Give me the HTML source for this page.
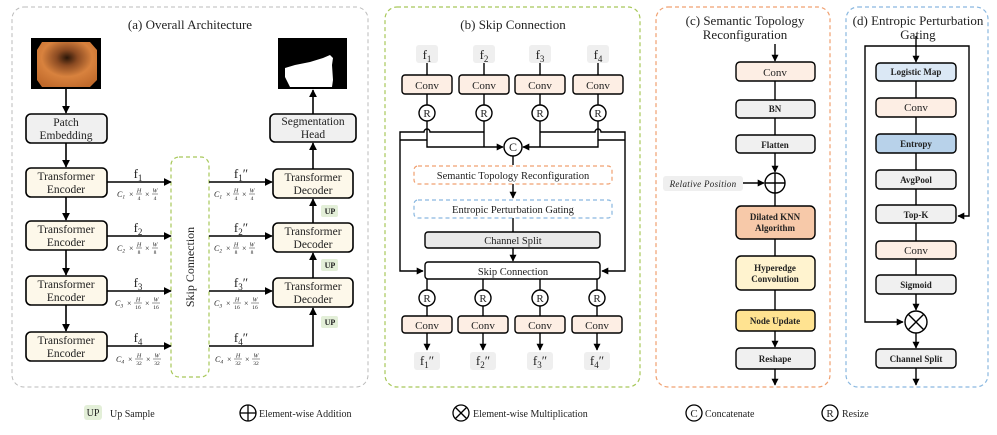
<!DOCTYPE html>
<html><head><meta charset="utf-8"><style>
html,body{margin:0;padding:0;background:#fff}
svg{display:block}
text{font-family:"Liberation Serif",serif;fill:#222}
</style></head><body>
<svg width="997" height="435" viewBox="0 0 997 435" xmlns="http://www.w3.org/2000/svg">
<defs>
<marker id="ah" viewBox="0 0 10 10" refX="9" refY="5" markerWidth="5" markerHeight="5" orient="auto-start-reverse"><path d="M0,0 L10,5 L0,10 z" fill="#000"/></marker>
<radialGradient id="endo" cx="0.5" cy="0.35" r="0.7"><stop offset="0" stop-color="#2a1608"/><stop offset="0.25" stop-color="#8a4a22"/><stop offset="0.6" stop-color="#d8823e"/><stop offset="1" stop-color="#c06a2c"/></radialGradient>
</defs>
<g fill="none" stroke="#000" stroke-width="1.6">
<rect x="12" y="7" width="356" height="380" rx="12" stroke="#bbb" stroke-width="1" stroke-dasharray="4,3"/>
<rect x="385" y="7" width="255" height="380" rx="12" stroke="#a8c85a" stroke-width="1.2" stroke-dasharray="4,3"/>
<rect x="656" y="7" width="174" height="380" rx="12" stroke="#f0a070" stroke-width="1.2" stroke-dasharray="4,3"/>
<rect x="846" y="7" width="142" height="380" rx="12" stroke="#8ab8e0" stroke-width="1.2" stroke-dasharray="4,3"/>
</g>
<text x="190" y="29" font-size="13" text-anchor="middle">(a) Overall Architecture</text>
<text x="513" y="29" font-size="13" text-anchor="middle">(b) Skip Connection</text>
<text x="745" y="25" font-size="13" text-anchor="middle">(c) Semantic Topology</text>
<text x="745" y="39" font-size="13" text-anchor="middle">Reconfiguration</text>
<text x="918" y="25" font-size="13" text-anchor="middle">(d) Entropic Perturbation</text>
<text x="918" y="39" font-size="13" text-anchor="middle">Gating</text>

<!-- panel a -->
<rect x="31" y="38" width="70" height="51" fill="#000"/>
<polygon points="42,42 90,42 97,50 97,80 90,87 42,87 37,80 37,50" fill="url(#endo)"/>
<rect x="278" y="38" width="69" height="51" fill="#000"/>
<polygon points="285,68 295,65 310,62 323,58 330,55 333,58 332,65 333,80 332,87 290,87 285,77" fill="#fff"/>
<g stroke="#000" stroke-width="1.6">
<rect x="26" y="114" width="81" height="29" rx="5" fill="#f0f0f0"/>
<rect x="26" y="168" width="81" height="29" rx="5" fill="#fdf8ea"/>
<rect x="26" y="221" width="81" height="29" rx="5" fill="#fdf8ea"/>
<rect x="26" y="276" width="81" height="29" rx="5" fill="#fdf8ea"/>
<rect x="26" y="332" width="81" height="29" rx="5" fill="#fdf8ea"/>
<rect x="270" y="114" width="86" height="28" rx="5" fill="#f0f0f0"/>
<rect x="273" y="169" width="80" height="29" rx="5" fill="#fdf8ea"/>
<rect x="273" y="223" width="80" height="29" rx="5" fill="#fdf8ea"/>
<rect x="273" y="278" width="80" height="29" rx="5" fill="#fdf8ea"/>
</g>
<rect x="171" y="157" width="38" height="220" rx="8" fill="none" stroke="#a8c85a" stroke-width="1.2" stroke-dasharray="4,3"/>
<text transform="translate(194,267) rotate(-90)" font-size="12" text-anchor="middle">Skip Connection</text>
<g font-size="11.5" text-anchor="middle">
<text x="66" y="126">Patch</text><text x="66" y="139">Embedding</text>
<text x="66" y="180">Transformer</text><text x="66" y="193">Encoder</text>
<text x="66" y="233">Transformer</text><text x="66" y="246">Encoder</text>
<text x="66" y="288">Transformer</text><text x="66" y="301">Encoder</text>
<text x="66" y="344">Transformer</text><text x="66" y="357">Encoder</text>
<text x="313" y="125">Segmentation</text><text x="313" y="138">Head</text>
<text x="313" y="181">Transformer</text><text x="313" y="194">Decoder</text>
<text x="313" y="235">Transformer</text><text x="313" y="248">Decoder</text>
<text x="313" y="290">Transformer</text><text x="313" y="303">Decoder</text>
</g>
<g fill="#e3efd8"><rect x="321" y="205" width="17" height="12" rx="2"/><rect x="321" y="259" width="17" height="12" rx="2"/><rect x="321" y="316" width="17" height="12" rx="2"/></g>
<g font-size="8" text-anchor="middle" font-weight="bold"><text x="330" y="214">UP</text><text x="330" y="268">UP</text><text x="330" y="325">UP</text></g>
<g stroke="#000" stroke-width="1.6" fill="none" marker-end="url(#ah)">
<line x1="66" y1="89" x2="66" y2="113"/>
<line x1="66" y1="143" x2="66" y2="167"/>
<line x1="66" y1="197" x2="66" y2="220"/>
<line x1="66" y1="250" x2="66" y2="275"/>
<line x1="66" y1="305" x2="66" y2="331"/>
<line x1="107" y1="182" x2="171" y2="182"/>
<line x1="107" y1="236" x2="171" y2="236"/>
<line x1="107" y1="291" x2="171" y2="291"/>
<line x1="107" y1="346" x2="171" y2="346"/>
<line x1="209" y1="182" x2="272" y2="182"/>
<line x1="209" y1="236" x2="272" y2="236"/>
<line x1="209" y1="291" x2="272" y2="291"/>
<polyline points="209,346 313,346 313,308"/>
<line x1="313" y1="278" x2="313" y2="253"/>
<line x1="313" y1="223" x2="313" y2="199"/>
<line x1="313" y1="169" x2="313" y2="143"/>
<line x1="313" y1="114" x2="313" y2="90"/>
</g>
<g font-size="13" text-anchor="middle">
<text x="138" y="178">f<tspan font-size="9" dy="3">1</tspan></text>
<text x="138" y="232">f<tspan font-size="9" dy="3">2</tspan></text>
<text x="138" y="287">f<tspan font-size="9" dy="3">3</tspan></text>
<text x="138" y="342">f<tspan font-size="9" dy="3">4</tspan></text>
<text x="241" y="178">f<tspan font-size="9" dy="3">1</tspan><tspan dy="-3">″</tspan></text>
<text x="241" y="232">f<tspan font-size="9" dy="3">2</tspan><tspan dy="-3">″</tspan></text>
<text x="241" y="287">f<tspan font-size="9" dy="3">3</tspan><tspan dy="-3">″</tspan></text>
<text x="241" y="342">f<tspan font-size="9" dy="3">4</tspan><tspan dy="-3">″</tspan></text>
</g>
<!-- dims with stacked fractions -->
<g font-style="italic" fill="#333" stroke-width="0.5">
<g transform="translate(117,194)"><text y="3" font-size="8">C<tspan font-size="5.5" dy="1.5">1</tspan></text><text x="12" y="3" font-size="8" font-style="normal">×</text><text x="22" y="-1.5" font-size="6" text-anchor="middle">H</text><line x1="19" x2="25" stroke="#333"/><text x="22" y="6" font-size="5.5" text-anchor="middle" font-style="normal">4</text><text x="28" y="3" font-size="8" font-style="normal">×</text><text x="38" y="-1.5" font-size="6" text-anchor="middle">W</text><line x1="35" x2="41" stroke="#333"/><text x="38" y="6" font-size="5.5" text-anchor="middle" font-style="normal">4</text></g>
<g transform="translate(214,194)"><text y="3" font-size="8">C<tspan font-size="5.5" dy="1.5">1</tspan></text><text x="12" y="3" font-size="8" font-style="normal">×</text><text x="22" y="-1.5" font-size="6" text-anchor="middle">H</text><line x1="19" x2="25" stroke="#333"/><text x="22" y="6" font-size="5.5" text-anchor="middle" font-style="normal">4</text><text x="28" y="3" font-size="8" font-style="normal">×</text><text x="38" y="-1.5" font-size="6" text-anchor="middle">W</text><line x1="35" x2="41" stroke="#333"/><text x="38" y="6" font-size="5.5" text-anchor="middle" font-style="normal">4</text></g>
<g transform="translate(117,248)"><text y="3" font-size="8">C<tspan font-size="5.5" dy="1.5">2</tspan></text><text x="12" y="3" font-size="8" font-style="normal">×</text><text x="22" y="-1.5" font-size="6" text-anchor="middle">H</text><line x1="19" x2="25" stroke="#333"/><text x="22" y="6" font-size="5.5" text-anchor="middle" font-style="normal">8</text><text x="28" y="3" font-size="8" font-style="normal">×</text><text x="38" y="-1.5" font-size="6" text-anchor="middle">W</text><line x1="35" x2="41" stroke="#333"/><text x="38" y="6" font-size="5.5" text-anchor="middle" font-style="normal">8</text></g>
<g transform="translate(214,248)"><text y="3" font-size="8">C<tspan font-size="5.5" dy="1.5">2</tspan></text><text x="12" y="3" font-size="8" font-style="normal">×</text><text x="22" y="-1.5" font-size="6" text-anchor="middle">H</text><line x1="19" x2="25" stroke="#333"/><text x="22" y="6" font-size="5.5" text-anchor="middle" font-style="normal">8</text><text x="28" y="3" font-size="8" font-style="normal">×</text><text x="38" y="-1.5" font-size="6" text-anchor="middle">W</text><line x1="35" x2="41" stroke="#333"/><text x="38" y="6" font-size="5.5" text-anchor="middle" font-style="normal">8</text></g>
<g transform="translate(115,303)"><text y="3" font-size="8">C<tspan font-size="5.5" dy="1.5">3</tspan></text><text x="12" y="3" font-size="8" font-style="normal">×</text><text x="23" y="-1.5" font-size="6" text-anchor="middle">H</text><line x1="19" x2="27" stroke="#333"/><text x="23" y="6" font-size="5.5" text-anchor="middle" font-style="normal">16</text><text x="30" y="3" font-size="8" font-style="normal">×</text><text x="41" y="-1.5" font-size="6" text-anchor="middle">W</text><line x1="37" x2="45" stroke="#333"/><text x="41" y="6" font-size="5.5" text-anchor="middle" font-style="normal">16</text></g>
<g transform="translate(214,303)"><text y="3" font-size="8">C<tspan font-size="5.5" dy="1.5">3</tspan></text><text x="12" y="3" font-size="8" font-style="normal">×</text><text x="23" y="-1.5" font-size="6" text-anchor="middle">H</text><line x1="19" x2="27" stroke="#333"/><text x="23" y="6" font-size="5.5" text-anchor="middle" font-style="normal">16</text><text x="30" y="3" font-size="8" font-style="normal">×</text><text x="41" y="-1.5" font-size="6" text-anchor="middle">W</text><line x1="37" x2="45" stroke="#333"/><text x="41" y="6" font-size="5.5" text-anchor="middle" font-style="normal">16</text></g>
<g transform="translate(116,359)"><text y="3" font-size="8">C<tspan font-size="5.5" dy="1.5">4</tspan></text><text x="12" y="3" font-size="8" font-style="normal">×</text><text x="23" y="-1.5" font-size="6" text-anchor="middle">H</text><line x1="19" x2="27" stroke="#333"/><text x="23" y="6" font-size="5.5" text-anchor="middle" font-style="normal">32</text><text x="30" y="3" font-size="8" font-style="normal">×</text><text x="41" y="-1.5" font-size="6" text-anchor="middle">W</text><line x1="37" x2="45" stroke="#333"/><text x="41" y="6" font-size="5.5" text-anchor="middle" font-style="normal">32</text></g>
<g transform="translate(215,359)"><text y="3" font-size="8">C<tspan font-size="5.5" dy="1.5">4</tspan></text><text x="12" y="3" font-size="8" font-style="normal">×</text><text x="23" y="-1.5" font-size="6" text-anchor="middle">H</text><line x1="19" x2="27" stroke="#333"/><text x="23" y="6" font-size="5.5" text-anchor="middle" font-style="normal">32</text><text x="30" y="3" font-size="8" font-style="normal">×</text><text x="41" y="-1.5" font-size="6" text-anchor="middle">W</text><line x1="37" x2="45" stroke="#333"/><text x="41" y="6" font-size="5.5" text-anchor="middle" font-style="normal">32</text></g>
</g>

<!-- panel b -->
<g fill="#efefef">
<rect x="416" y="45" width="22" height="18" rx="3"/><rect x="473" y="45" width="22" height="18" rx="3"/><rect x="529" y="45" width="22" height="18" rx="3"/><rect x="587" y="45" width="22" height="18" rx="3"/>
<rect x="414" y="352" width="26" height="18" rx="3"/><rect x="470" y="352" width="26" height="18" rx="3"/><rect x="527" y="352" width="26" height="18" rx="3"/><rect x="584" y="352" width="26" height="18" rx="3"/>
</g>
<g font-size="13" text-anchor="middle">
<text x="427" y="59">f<tspan font-size="9" dy="3">1</tspan></text>
<text x="484" y="59">f<tspan font-size="9" dy="3">2</tspan></text>
<text x="540" y="59">f<tspan font-size="9" dy="3">3</tspan></text>
<text x="598" y="59">f<tspan font-size="9" dy="3">4</tspan></text>
<text x="427" y="365">f<tspan font-size="9" dy="3">1</tspan><tspan dy="-3">″</tspan></text>
<text x="483" y="365">f<tspan font-size="9" dy="3">2</tspan><tspan dy="-3">″</tspan></text>
<text x="540" y="365">f<tspan font-size="9" dy="3">3</tspan><tspan dy="-3">″</tspan></text>
<text x="597" y="365">f<tspan font-size="9" dy="3">4</tspan><tspan dy="-3">″</tspan></text>
</g>
<g stroke="#000" stroke-width="1.4" fill="none">
<line x1="427" y1="63" x2="427" y2="75"/><line x1="484" y1="63" x2="484" y2="75"/><line x1="540" y1="63" x2="540" y2="75"/><line x1="598" y1="63" x2="598" y2="75"/>
<line x1="427" y1="94" x2="427" y2="105"/><line x1="484" y1="94" x2="484" y2="105"/><line x1="540" y1="94" x2="540" y2="105"/><line x1="598" y1="94" x2="598" y2="105"/>
<polyline points="427,121 427,147 503,147" marker-end="url(#ah)"/>
<polyline points="484,121 484,147"/>
<polyline points="598,121 598,147 523,147" marker-end="url(#ah)"/>
<polyline points="540,121 540,147"/>
<path d="M484,132 L430,132 A3,3 0 0 0 424,132 L400,132 L400,271 L423,271" marker-end="url(#ah)"/>
<line x1="400" y1="140" x2="427" y2="140"/>
<path d="M540,132 L595,132 A3,3 0 0 1 601,132 L625,132 L625,271 L602,271" marker-end="url(#ah)"/>
<line x1="598" y1="140" x2="625" y2="140"/>
<line x1="513" y1="156" x2="513" y2="165"/>
<line x1="513" y1="184" x2="513" y2="198" marker-end="url(#ah)"/>
<line x1="513" y1="218" x2="513" y2="232"/>
<line x1="513" y1="248" x2="513" y2="261" marker-end="url(#ah)"/>
<line x1="427" y1="279" x2="427" y2="290"/><line x1="483" y1="279" x2="483" y2="290"/><line x1="540" y1="279" x2="540" y2="290"/><line x1="597" y1="279" x2="597" y2="290"/>
<line x1="427" y1="306" x2="427" y2="316"/><line x1="483" y1="306" x2="483" y2="316"/><line x1="540" y1="306" x2="540" y2="316"/><line x1="597" y1="306" x2="597" y2="316"/>
<line x1="427" y1="333" x2="427" y2="350" marker-end="url(#ah)"/><line x1="483" y1="333" x2="483" y2="350" marker-end="url(#ah)"/><line x1="540" y1="333" x2="540" y2="350" marker-end="url(#ah)"/><line x1="597" y1="333" x2="597" y2="350" marker-end="url(#ah)"/>
</g>
<g stroke="#000" stroke-width="1.4" fill="#fdeee4">
<rect x="402" y="75" width="50" height="19" rx="3"/><rect x="459" y="75" width="50" height="19" rx="3"/><rect x="515" y="75" width="50" height="19" rx="3"/><rect x="573" y="75" width="50" height="19" rx="3"/>
<rect x="402" y="316" width="50" height="17" rx="3"/><rect x="458" y="316" width="50" height="17" rx="3"/><rect x="515" y="316" width="50" height="17" rx="3"/><rect x="572" y="316" width="50" height="17" rx="3"/>
</g>
<g stroke="#000" stroke-width="1.4" fill="#fff">
<circle cx="427" cy="113" r="8"/><circle cx="484" cy="113" r="8"/><circle cx="540" cy="113" r="8"/><circle cx="598" cy="113" r="8"/>
<circle cx="427" cy="298" r="8"/><circle cx="483" cy="298" r="8"/><circle cx="540" cy="298" r="8"/><circle cx="597" cy="298" r="8"/>
<circle cx="513" cy="147" r="9"/>
</g>
<rect x="414" y="166" width="198" height="18" rx="4" fill="none" stroke="#f0a070" stroke-width="1.2" stroke-dasharray="4,3"/>
<rect x="414" y="200" width="198" height="18" rx="4" fill="none" stroke="#8ab8e0" stroke-width="1.2" stroke-dasharray="4,3"/>
<rect x="425" y="232" width="175" height="16" rx="3" fill="#e9e9e9" stroke="#000" stroke-width="1.4"/>
<rect x="425" y="262" width="175" height="17" rx="3" fill="#fff" stroke="#000" stroke-width="1.4"/>
<g font-size="11" text-anchor="middle">
<text x="427" y="89">Conv</text><text x="484" y="89">Conv</text><text x="540" y="89">Conv</text><text x="598" y="89">Conv</text>
<text x="427" y="329">Conv</text><text x="483" y="329">Conv</text><text x="540" y="329">Conv</text><text x="597" y="329">Conv</text>
<text x="427" y="117">R</text><text x="484" y="117">R</text><text x="540" y="117">R</text><text x="598" y="117">R</text>
<text x="427" y="302">R</text><text x="483" y="302">R</text><text x="540" y="302">R</text><text x="597" y="302">R</text>
<text x="513" y="151" font-size="12">C</text>
<text x="513" y="179" font-size="10.5">Semantic Topology Reconfiguration</text>
<text x="513" y="213" font-size="10.5">Entropic Perturbation Gating</text>
<text x="513" y="244" font-size="10.5">Channel Split</text>
<text x="513" y="275" font-size="10.5">Skip Connection</text>
</g>

<!-- panel c -->
<g stroke="#000" stroke-width="1.4" fill="none">
<line x1="775" y1="44" x2="775" y2="61" marker-end="url(#ah)"/>
<line x1="775" y1="81" x2="775" y2="100"/>
<line x1="775" y1="118" x2="775" y2="135"/>
<line x1="775" y1="153" x2="775" y2="172" marker-end="url(#ah)"/>
<line x1="775" y1="193" x2="775" y2="206"/>
<line x1="775" y1="239" x2="775" y2="256"/>
<line x1="775" y1="290" x2="775" y2="310"/>
<line x1="775" y1="331" x2="775" y2="347" marker-end="url(#ah)"/>
<line x1="775" y1="369" x2="775" y2="385" marker-end="url(#ah)"/>
<line x1="743" y1="183" x2="764" y2="183" marker-end="url(#ah)"/>
</g>
<rect x="663" y="176" width="80" height="15" rx="3" fill="#efefef"/>
<text x="703" y="187" font-size="9" font-style="italic" text-anchor="middle" letter-spacing="0.3">Relative Position</text>
<g stroke="#000" stroke-width="1.4">
<rect x="736" y="62" width="79" height="19" rx="4" fill="#fdeee4"/>
<rect x="736" y="100" width="79" height="18" rx="4" fill="#f0f0f0"/>
<rect x="736" y="135" width="79" height="18" rx="4" fill="#f0f0f0"/>
<rect x="736" y="206" width="79" height="33" rx="5" fill="#f7c9a9"/>
<rect x="736" y="256" width="79" height="34" rx="5" fill="#fff3cf"/>
<rect x="736" y="310" width="79" height="21" rx="4" fill="#ffe391"/>
<rect x="736" y="348" width="79" height="21" rx="4" fill="#f0f0f0"/>
<circle cx="775" cy="183" r="10" fill="#fff"/>
<line x1="765" y1="183" x2="785" y2="183"/><line x1="775" y1="173" x2="775" y2="193"/>
</g>
<g font-size="9" text-anchor="middle" font-weight="bold">
<text x="775" y="76" font-size="11" font-weight="normal">Conv</text>
<text x="775" y="112">BN</text>
<text x="775" y="148">Flatten</text>
<text x="775" y="220">Dilated KNN</text><text x="775" y="231">Algorithm</text>
<text x="775" y="271">Hyperedge</text><text x="775" y="282">Convolution</text>
<text x="775" y="324">Node Update</text>
<text x="775" y="362">Reshape</text>
</g>

<!-- panel d -->
<g stroke="#000" stroke-width="1.4" fill="none">
<line x1="916" y1="36" x2="916" y2="62" marker-end="url(#ah)"/>
<polyline points="916,46 865,46 865,322 903,322" marker-end="url(#ah)"/>
<polyline points="916,46 969,46 969,216 958,216" marker-end="url(#ah)"/>
<line x1="916" y1="81" x2="916" y2="98"/>
<line x1="916" y1="117" x2="916" y2="134"/>
<line x1="916" y1="153" x2="916" y2="170"/>
<line x1="916" y1="189" x2="916" y2="205"/>
<line x1="916" y1="223" x2="916" y2="241"/>
<line x1="916" y1="259" x2="916" y2="275"/>
<line x1="916" y1="294" x2="916" y2="310" marker-end="url(#ah)"/>
<line x1="916" y1="333" x2="916" y2="348" marker-end="url(#ah)"/>
<line x1="916" y1="368" x2="916" y2="385" marker-end="url(#ah)"/>
</g>
<g stroke="#000" stroke-width="1.4">
<rect x="876" y="63" width="80" height="18" rx="4" fill="#dbe8f5"/>
<rect x="876" y="98" width="80" height="19" rx="4" fill="#fdeee4"/>
<rect x="876" y="134" width="80" height="19" rx="4" fill="#b8d2ea"/>
<rect x="876" y="170" width="80" height="19" rx="4" fill="#f0f0f0"/>
<rect x="876" y="205" width="80" height="18" rx="4" fill="#f0f0f0"/>
<rect x="876" y="241" width="80" height="18" rx="4" fill="#fdeee4"/>
<rect x="876" y="275" width="80" height="19" rx="4" fill="#f0f0f0"/>
<rect x="876" y="349" width="80" height="19" rx="4" fill="#f0f0f0"/>
<circle cx="916" cy="322" r="11" fill="#fff"/>
<line x1="908" y1="314" x2="924" y2="330"/><line x1="924" y1="314" x2="908" y2="330"/>
</g>
<g font-size="9" text-anchor="middle" font-weight="bold">
<text x="916" y="75">Logistic Map</text>
<text x="916" y="111" font-size="11" font-weight="normal">Conv</text>
<text x="916" y="147">Entropy</text>
<text x="916" y="183">AvgPool</text>
<text x="916" y="218">Top-K</text>
<text x="916" y="254" font-size="11" font-weight="normal">Conv</text>
<text x="916" y="288">Sigmoid</text>
<text x="916" y="362">Channel Split</text>
</g>

<!-- legend -->
<rect x="84" y="405" width="18" height="15" rx="3" fill="#e3efd8"/>
<text x="93" y="416" font-size="10" text-anchor="middle">UP</text>
<text x="110" y="417" font-size="10">Up Sample</text>
<g stroke="#000" stroke-width="1.3" fill="none">
<circle cx="248" cy="413" r="8"/><line x1="240" y1="413" x2="256" y2="413"/><line x1="248" y1="405" x2="248" y2="421"/>
<circle cx="461" cy="413" r="8"/><line x1="455" y1="407" x2="467" y2="419"/><line x1="467" y1="407" x2="455" y2="419"/>
<circle cx="694" cy="413" r="8"/><circle cx="830" cy="413" r="8"/>
</g>
<text x="694" y="417" font-size="11" text-anchor="middle">C</text>
<text x="830" y="417" font-size="11" text-anchor="middle">R</text>
<g font-size="10">
<text x="259" y="417">Element-wise Addition</text>
<text x="473" y="417">Element-wise Multiplication</text>
<text x="705" y="417">Concatenate</text>
<text x="842" y="417">Resize</text>
</g>
</svg>
</body></html>
